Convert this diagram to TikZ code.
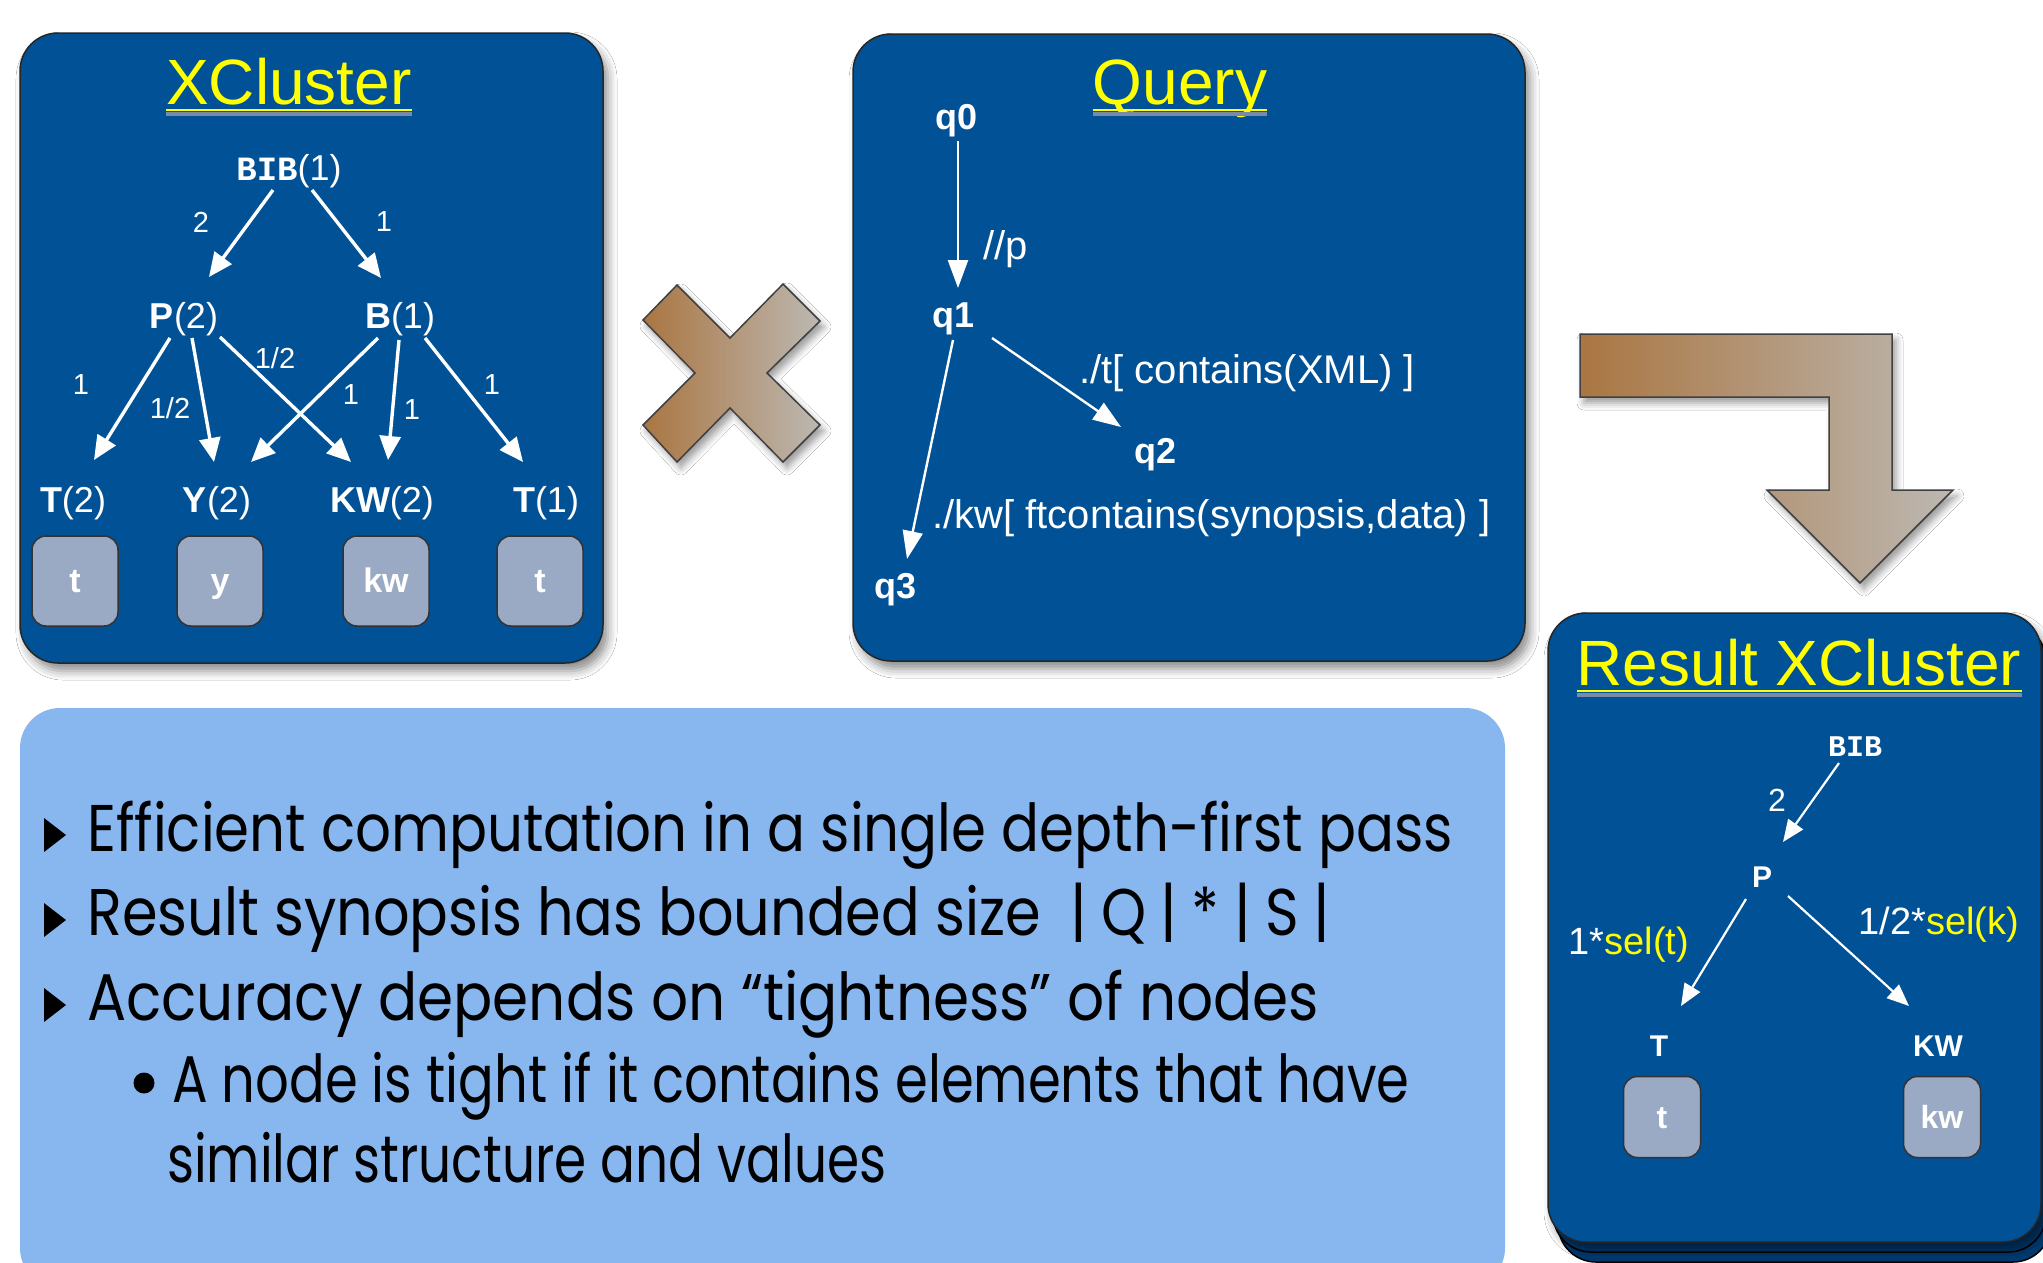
\documentclass[tikz,border=0pt]{standalone}
\usepackage{graphicx}
\usepackage{fontspec}
\setmainfont{Liberation Sans}
\newfontfamily\monofont{Liberation Mono}
\newfontfamily\bodyfont[FakeStretch=0.8]{Poppins}
\usetikzlibrary{arrows.meta,calc,shadows.blur}

\definecolor{panelblue}{RGB}{0,81,150}
\definecolor{panelback}{RGB}{0,58,112}
\definecolor{noteblue}{RGB}{136,182,238}
\definecolor{leafgray}{RGB}{155,170,196}
\definecolor{titleyellow}{RGB}{255,255,0}
\definecolor{rulegray}{RGB}{120,138,168}
\definecolor{bronze}{RGB}{170,118,66}
\definecolor{stone}{RGB}{188,184,178}

\newcommand\fsz[1]{\fontsize{#1}{#1}\selectfont}
\newcommand\bargap{\hspace{0.2em}}

\tikzset{
  panel/.style={draw=black!85, line width=1.5pt, fill=panelblue, rounded corners=38pt,
    inner sep=0pt,
    blur shadow={shadow xshift=5pt, shadow yshift=-8pt, shadow blur radius=9pt, shadow opacity=45}},
  backpanel/.style={draw=black, line width=1.5pt, fill=panelback, rounded corners=38pt, inner sep=0pt},
  heading/.style={text=titleyellow, font=\fsz{64}, inner sep=0pt, anchor=base},
  lbl/.style={text=white, font=\fsz{36}, inner sep=0pt},
  qlbl/.style={text=white, font=\fsz{36}\bfseries, inner sep=0pt},
  wt/.style={text=white, font=\fsz{29}, inner sep=0pt},
  qedge/.style={text=white, font=\fsz{40}, inner sep=0pt, anchor=west},
  rlbl/.style={text=white, font=\fsz{30}\bfseries, inner sep=0pt},
  sel/.style={text=white, font=\fsz{38}, inner sep=0pt},
  leaf/.style={draw=black!80, line width=1.5pt, fill=leafgray, rounded corners=14pt,
    minimum width=86pt, minimum height=90pt, text=white, font=\fsz{34}\bfseries, inner sep=0pt,
    text height=22pt, text depth=0pt},
  rleaf/.style={leaf, minimum width=77pt, minimum height=81pt, font=\fsz{32}\bfseries},
  xarr/.style={draw=white, line width=3.4pt, -{Triangle[length=24pt,width=21pt]}},
  qarr/.style={draw=white, line width=2.4pt, -{Triangle[length=28pt,width=20pt]}},
  rarr/.style={draw=white, line width=2.2pt, -{Triangle[length=22pt,width=18pt]}},
  glyph/.style={draw=black!75, line width=1.5pt, left color=bronze, right color=stone,
    blur shadow={shadow xshift=4pt, shadow yshift=-6pt, shadow blur radius=7pt, shadow opacity=40}},
  body/.style={font=\bodyfont\fsz{66}, text=black, inner sep=0pt, anchor=base west},
  underline/.style={line width=4pt, draw=rulegray},
  yline/.style={line width=2pt, draw=titleyellow},
}

\begin{document}
\begin{tikzpicture}[x=1pt,y=-1pt]
\useasboundingbox[fill=white] (0,0) rectangle (2043,1262);

% summary notes panel
\node[fill=noteblue, rounded corners=40pt, minimum width=1485pt, minimum height=580pt, inner sep=0pt]
  (notes) at (762.5,998) {};

% XCluster synopsis panel
\node[panel, minimum width=583pt, minimum height=630pt] (xpanel) at (311.5,348) {};
\node[heading] (xtitle) at (289,104) {XCluster};
\draw[underline] ([yshift=-10pt]xtitle.base west) -- ([yshift=-10pt]xtitle.base east);
\draw[yline] ([yshift=-6pt]xtitle.base west) -- ([yshift=-6pt]xtitle.base east);

\node[lbl] (bib) at (289,171) {{\monofont\bfseries\fsz{34}BIB}(1)};
\node[lbl] (p)   at (184,319) {\textbf{P}(2)};
\node[lbl] (b)   at (400,319) {\textbf{B}(1)};
\node[lbl] (t2)  at (73,503)  {\textbf{T}(2)};
\node[lbl] (y2)  at (217,503) {\textbf{Y}(2)};
\node[lbl] (kw2) at (382,503) {\textbf{KW}(2)};
\node[lbl] (t1)  at (546,503) {\textbf{T}(1)};

\node[leaf] (lt2)  at (75,581)  {t};
\node[leaf] (ly2)  at (220,581) {y};
\node[leaf] (lkw2) at (386,581) {kw};
\node[leaf] (lt1)  at (540,581) {t};

\draw[xarr] ($(bib)+(-16,19)$) -- ($(p)+(25,-42)$);
\draw[xarr] ($(bib)+(23,19)$) -- ($(b)+(-19,-41)$);
\draw[xarr] ($(p)+(-14,19)$) -- ($(t2)+(21,-43)$);
\draw[xarr] ($(p)+(8,19)$) -- ($(y2)+(-3,-41)$);
\draw[xarr] ($(p)+(36,18)$) -- ($(kw2)+(-31,-41)$);
\draw[xarr] ($(b)+(-22,19)$) -- ($(y2)+(34,-41)$);
\draw[xarr] ($(b)+(-1,21)$) -- ($(kw2)+(6,-43)$);
\draw[xarr] ($(b)+(25,19)$) -- ($(t1)+(-23,-41)$);

\node[wt] (w1) at (201,222) {2};
\node[wt] (w2) at (384,222) {1};
\node[wt] (w3) at (81,385)  {1};
\node[wt] (w4) at (170,408) {1/2};
\node[wt] (w5) at (275,358) {1/2};
\node[wt] (w6) at (351,395) {1};
\node[wt] (w7) at (412,410) {1};
\node[wt] (w8) at (492,385) {1};

% product sign
\path[glyph] (643,320) -- (677,285) -- (730,338) -- (783,284) -- (820,321) -- (767,373)
  -- (820,425) -- (783,462) -- (730,408) -- (677,462) -- (643,425) -- (695,373) -- cycle;

% query panel
\node[panel, minimum width=672pt, minimum height=627pt] (qpanel) at (1189,347.5) {};
\node[heading] (qtitle) at (1180,104) {Query};
\draw[underline] ([yshift=-10pt]qtitle.base west) -- ([yshift=-10pt]qtitle.base east);
\draw[yline] ([yshift=-6pt]qtitle.base west) -- ([yshift=-6pt]qtitle.base east);

\node[qlbl] (q0) at (956,121)  {q0};
\node[qlbl] (q1) at (953,319)  {q1};
\node[qlbl] (q2) at (1155,455) {q2};
\node[qlbl] (q3) at (895,590)  {q3};

\draw[qarr] ($(q0)+(2,20)$) -- ($(q1)+(5,-31)$);
\draw[qarr] ($(q1)+(39,19)$) -- ($(q2)+(-34,-28)$);
\draw[qarr] ($(q1)+(0,21)$) -- ($(q3)+(12,-31)$);

\node[qedge] (e1) at (983,249)  {//p};
\node[qedge] (e2) at (1079,373) {./t[ contains(XML) ]};
\node[qedge] (e3) at (932,518)  {./kw[ ftcontains(synopsis,data) ]};

% bent arrow towards the result
\path[glyph] (1580,334) -- (1892,334) -- (1892,490) -- (1953,490) -- (1860,583) -- (1767,490)
  -- (1829,490) -- (1829,397) -- (1580,397) -- cycle;

% result XCluster panel, stacked
\node[backpanel, minimum width=493pt, minimum height=629pt] (rback2) at (1804.5,947.5) {};
\node[backpanel, minimum width=493pt, minimum height=629pt] (rback1) at (1799.5,937.5) {};
\node[panel, minimum width=493pt, minimum height=629pt] (rpanel) at (1794.5,927.5) {};
\node[heading] (rtitle) at (1799,685) {Result XCluster};
\draw[underline] ([yshift=-10pt]rtitle.base west) -- ([yshift=-10pt]rtitle.base east);
\draw[yline] ([yshift=-6pt]rtitle.base west) -- ([yshift=-6pt]rtitle.base east);

\node[rlbl] (rbib) at (1855,747) {\monofont\bfseries BIB};
\node[rlbl] (rp)   at (1762,877) {P};
\node[rlbl] (rt)   at (1659,1046) {T};
\node[rlbl] (rkw)  at (1938,1046) {KW};
\node[rleaf] (rlt)  at (1662,1117) {t};
\node[rleaf] (rlkw) at (1942,1117) {kw};

\draw[rarr] ($(rbib)+(-16,16)$) -- ($(rp)+(21,-35)$);
\draw[rarr] ($(rp)+(-16,22)$) -- ($(rt)+(22,-40)$);
\draw[rarr] ($(rp)+(26,19)$) -- ($(rkw)+(-29,-40)$);

\node[wt, font=\fsz{32}] (rw1) at (1777,800) {2};
\node[sel] (rw2) at (1629,945) {1*\textcolor{titleyellow}{sel(t)}};
\node[sel] (rw3) at (1939,925) {1/2*\textcolor{titleyellow}{sel(k)}};

% notes text
\fill (44,818) -- (66,835) -- (44,852) -- cycle;
\fill (44,903) -- (66,920) -- (44,937) -- cycle;
\fill (44,988) -- (66,1005) -- (44,1022) -- cycle;
\fill (144,1083) circle[radius=10.5];
\node[body] (n1) at (87,851)  {\scalebox{1.065}[1]{Efficient computation in a single depth-first pass}};
\node[body] (n2) at (87,935)  {\scalebox{1.085}[1]{Result synopsis has bounded size\bargap\ |\bargap Q\bargap|\bargap*\bargap|\bargap S\bargap|}};
\node[body] (n3) at (87,1020) {\scalebox{1.1}[1]{Accuracy depends on “tightness” of nodes}};
\node[body] (n4) at (172,1102) {A node is tight if it contains elements that have};
\node[body] (n5) at (167,1182) {\scalebox{0.98}[1]{similar structure and values}};
\end{tikzpicture}
\end{document}
